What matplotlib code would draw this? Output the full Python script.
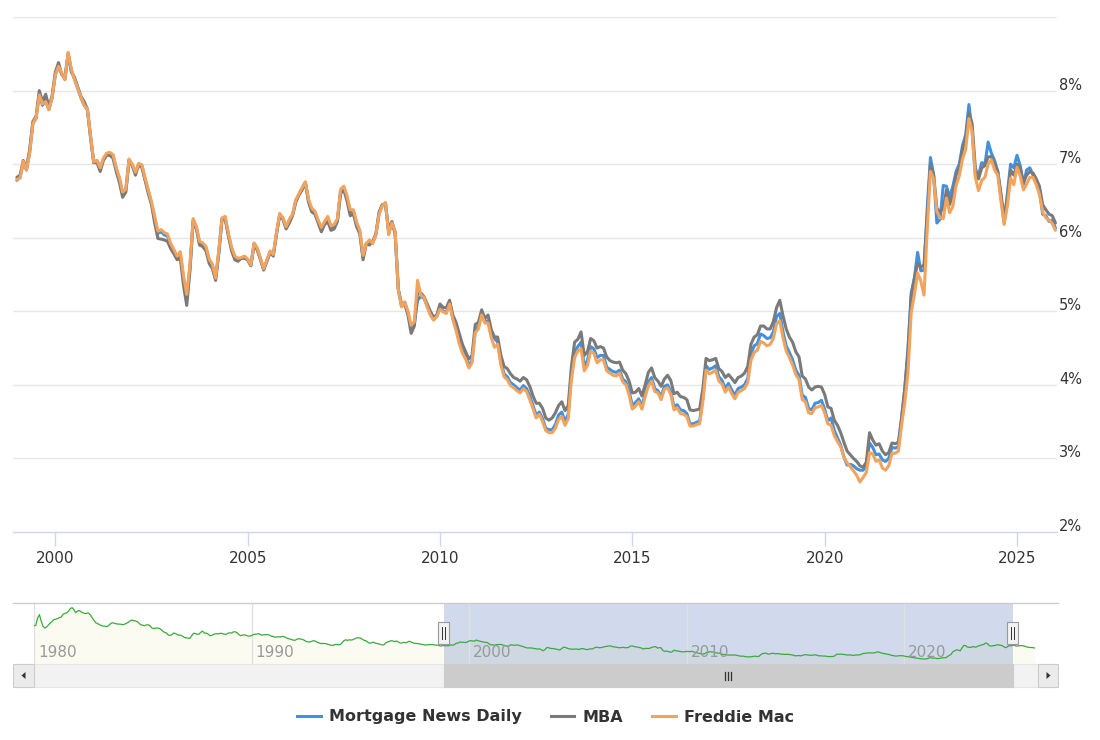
import numpy as np
import matplotlib
matplotlib.use("Agg")
import matplotlib.pyplot as plt
from matplotlib.lines import Line2D
from matplotlib.patches import Rectangle, Polygon
import matplotlib.transforms as mtransforms

plt.rcParams['font.family'] = ['DejaVu Sans']

# ---------------- data (monthly, Jan 1999 .. Jan 2026) ----------------
start_year = 1999
freddie_mac = [
    6.79, 6.81, 7.04, 6.92, 7.15, 7.55, 7.63, 7.94, 7.82, 7.85, 7.74, 7.91,
    8.21, 8.33, 8.24, 8.15, 8.52, 8.29, 8.15, 8.03, 7.91, 7.80, 7.75, 7.38,
    7.03, 7.05, 6.95, 7.08, 7.15, 7.16, 7.13, 6.95, 6.82, 6.62, 6.66, 7.07,
    7.00, 6.89, 7.01, 6.99, 6.81, 6.65, 6.49, 6.29, 6.09, 6.11, 6.07, 6.05,
    5.92, 5.84, 5.75, 5.81, 5.48, 5.23, 5.63, 6.26, 6.15, 5.95, 5.93, 5.88,
    5.71, 5.64, 5.45, 5.83, 6.27, 6.29, 6.06, 5.87, 5.75, 5.72, 5.73, 5.75,
    5.71, 5.63, 5.93, 5.86, 5.72, 5.58, 5.70, 5.82, 5.77, 6.07, 6.33, 6.27,
    6.15, 6.25, 6.32, 6.51, 6.60, 6.68, 6.76, 6.52, 6.40, 6.36, 6.24, 6.14,
    6.22, 6.29, 6.16, 6.18, 6.26, 6.66, 6.70, 6.57, 6.38, 6.38, 6.21, 6.10,
    5.76, 5.92, 5.97, 5.92, 6.04, 6.32, 6.43, 6.48, 6.04, 6.20, 6.09, 5.29,
    5.06, 5.13, 5.00, 4.81, 4.86, 5.42, 5.22, 5.19, 5.06, 4.95, 4.88, 4.93,
    5.03, 4.99, 4.97, 5.10, 4.89, 4.74, 4.56, 4.43, 4.35, 4.23, 4.30, 4.71,
    4.76, 4.95, 4.84, 4.84, 4.64, 4.51, 4.55, 4.27, 4.11, 4.07, 3.99, 3.96,
    3.92, 3.89, 3.95, 3.91, 3.80, 3.68, 3.55, 3.60, 3.50, 3.38, 3.35, 3.35,
    3.41, 3.53, 3.57, 3.45, 3.54, 4.07, 4.37, 4.46, 4.49, 4.19, 4.26, 4.46,
    4.43, 4.30, 4.34, 4.34, 4.19, 4.16, 4.13, 4.12, 4.16, 4.04, 4.00, 3.86,
    3.67, 3.71, 3.77, 3.67, 3.84, 3.98, 4.05, 3.91, 3.89, 3.80, 3.94, 3.96,
    3.87, 3.66, 3.69, 3.61, 3.60, 3.57, 3.44, 3.44, 3.46, 3.47, 3.77, 4.20,
    4.15, 4.17, 4.20, 4.05, 4.01, 3.90, 3.97, 3.88, 3.81, 3.90, 3.92, 3.95,
    4.03, 4.33, 4.44, 4.47, 4.59, 4.57, 4.53, 4.55, 4.63, 4.83, 4.87, 4.64,
    4.46, 4.37, 4.27, 4.14, 4.07, 3.80, 3.77, 3.62, 3.61, 3.69, 3.70, 3.72,
    3.62, 3.47, 3.45, 3.31, 3.23, 3.16, 3.02, 2.94, 2.89, 2.83, 2.77, 2.68,
    2.74, 2.81, 3.08, 3.06, 2.96, 2.98, 2.87, 2.84, 2.90, 3.07, 3.07, 3.10,
    3.45, 3.76, 4.17, 4.98, 5.23, 5.52, 5.41, 5.22, 6.11, 6.90, 6.80, 6.36,
    6.27, 6.26, 6.54, 6.34, 6.43, 6.71, 6.84, 7.07, 7.20, 7.62, 7.44, 6.82,
    6.64, 6.78, 6.82, 7.00, 7.06, 6.92, 6.85, 6.50, 6.18, 6.43, 6.81, 6.72,
    6.96, 6.84, 6.65, 6.73, 6.82, 6.82, 6.72, 6.59, 6.35, 6.27, 6.24, 6.19,
    6.10,
]
mba = [
    6.82, 6.85, 7.05, 6.95, 7.20, 7.58, 7.65, 8.00, 7.85, 7.95, 7.78, 7.93,
    8.25, 8.38, 8.22, 8.18, 8.50, 8.25, 8.18, 8.05, 7.92, 7.85, 7.75, 7.35,
    7.02, 7.02, 6.90, 7.05, 7.12, 7.12, 7.08, 6.90, 6.75, 6.55, 6.62, 7.05,
    6.98, 6.85, 7.00, 6.95, 6.78, 6.60, 6.45, 6.20, 5.99, 5.98, 5.97, 5.95,
    5.85, 5.78, 5.70, 5.72, 5.35, 5.08, 5.55, 6.22, 6.12, 5.90, 5.88, 5.82,
    5.65, 5.58, 5.42, 5.78, 6.25, 6.25, 6.02, 5.82, 5.70, 5.68, 5.72, 5.72,
    5.70, 5.62, 5.90, 5.83, 5.70, 5.56, 5.68, 5.80, 5.75, 6.05, 6.30, 6.25,
    6.12, 6.20, 6.30, 6.48, 6.58, 6.65, 6.75, 6.48, 6.35, 6.32, 6.20, 6.08,
    6.18, 6.22, 6.10, 6.12, 6.22, 6.60, 6.65, 6.50, 6.30, 6.32, 6.15, 6.05,
    5.70, 5.92, 5.90, 5.95, 6.05, 6.35, 6.45, 6.45, 6.10, 6.22, 6.05, 5.30,
    5.10, 5.10, 4.95, 4.70, 4.80, 5.25, 5.25, 5.20, 5.10, 5.00, 4.92, 4.95,
    5.10, 5.05, 5.05, 5.15, 4.95, 4.85, 4.70, 4.55, 4.45, 4.35, 4.40, 4.82,
    4.85, 5.02, 4.90, 4.95, 4.75, 4.65, 4.65, 4.40, 4.25, 4.22, 4.15, 4.10,
    4.08, 4.05, 4.10, 4.07, 3.98, 3.85, 3.75, 3.75, 3.68, 3.55, 3.52, 3.55,
    3.62, 3.72, 3.77, 3.65, 3.72, 4.25, 4.58, 4.62, 4.72, 4.40, 4.45, 4.63,
    4.60, 4.50, 4.52, 4.50, 4.38, 4.33, 4.31, 4.30, 4.31, 4.20, 4.15, 4.05,
    3.89, 3.90, 3.95, 3.85, 4.00, 4.17, 4.23, 4.10, 4.05, 3.98, 4.08, 4.13,
    4.06, 3.88, 3.90, 3.84, 3.83, 3.80, 3.66, 3.65, 3.66, 3.67, 3.95, 4.36,
    4.33, 4.34, 4.36, 4.22, 4.18, 4.10, 4.14, 4.09, 4.03, 4.10, 4.12, 4.16,
    4.25, 4.55, 4.65, 4.68, 4.80, 4.80, 4.76, 4.76, 4.86, 5.05, 5.15, 4.94,
    4.76, 4.65, 4.58, 4.45, 4.38, 4.12, 4.08, 3.97, 3.93, 3.97, 3.98, 3.97,
    3.87, 3.70, 3.68, 3.52, 3.45, 3.35, 3.22, 3.10, 3.05, 3.00, 2.96, 2.90,
    2.88, 2.95, 3.35, 3.25, 3.18, 3.20, 3.10, 3.05, 3.08, 3.21, 3.20, 3.22,
    3.55, 3.95, 4.45, 5.20, 5.45, 5.65, 5.60, 5.63, 6.30, 7.00, 6.85, 6.40,
    6.35, 6.40, 6.65, 6.45, 6.60, 6.85, 6.95, 7.20, 7.35, 7.70, 7.55, 6.95,
    6.80, 6.95, 6.98, 7.10, 7.10, 7.00, 6.90, 6.60, 6.25, 6.55, 6.92, 6.85,
    7.00, 6.95, 6.75, 6.85, 6.90, 6.88, 6.80, 6.70, 6.45, 6.38, 6.32, 6.30,
    6.20,
]
mortgage_news_daily = [
    6.78, 6.82, 7.02, 6.92, 7.16, 7.56, 7.62, 7.95, 7.80, 7.87, 7.74, 7.90,
    8.22, 8.32, 8.23, 8.15, 8.50, 8.28, 8.15, 8.03, 7.90, 7.80, 7.74, 7.38,
    7.02, 7.05, 6.94, 7.07, 7.14, 7.15, 7.12, 6.94, 6.80, 6.60, 6.65, 7.06,
    6.99, 6.88, 7.00, 6.98, 6.80, 6.64, 6.47, 6.27, 6.06, 6.08, 6.04, 6.02,
    5.90, 5.82, 5.73, 5.78, 5.44, 5.18, 5.60, 6.24, 6.14, 5.93, 5.91, 5.86,
    5.69, 5.62, 5.44, 5.81, 6.26, 6.27, 6.04, 5.85, 5.73, 5.70, 5.72, 5.74,
    5.70, 5.62, 5.92, 5.85, 5.71, 5.57, 5.69, 5.81, 5.76, 6.06, 6.32, 6.26,
    6.14, 6.23, 6.31, 6.50, 6.59, 6.67, 6.75, 6.50, 6.38, 6.34, 6.22, 6.12,
    6.20, 6.26, 6.14, 6.16, 6.24, 6.64, 6.68, 6.55, 6.35, 6.36, 6.19, 6.08,
    5.74, 5.92, 5.95, 5.93, 6.04, 6.33, 6.44, 6.47, 6.06, 6.21, 6.08, 5.30,
    5.07, 5.12, 4.98, 4.78, 4.84, 5.15, 5.20, 5.18, 5.07, 4.96, 4.89, 4.93,
    5.05, 5.00, 4.99, 5.12, 4.91, 4.77, 4.60, 4.46, 4.38, 4.26, 4.33, 4.74,
    4.79, 4.97, 4.86, 4.87, 4.67, 4.63, 4.58, 4.31, 4.15, 4.11, 4.03, 4.00,
    3.96, 3.93, 3.99, 3.95, 3.85, 3.72, 3.59, 3.63, 3.54, 3.41, 3.39, 3.39,
    3.46, 3.59, 3.63, 3.50, 3.60, 4.15, 4.45, 4.52, 4.58, 4.26, 4.33, 4.52,
    4.49, 4.37, 4.40, 4.40, 4.24, 4.21, 4.18, 4.17, 4.20, 4.08, 4.04, 3.91,
    3.72, 3.76, 3.81, 3.71, 3.88, 4.04, 4.10, 3.95, 3.92, 3.84, 3.98, 4.00,
    3.91, 3.70, 3.73, 3.66, 3.65, 3.61, 3.47, 3.47, 3.49, 3.51, 3.82, 4.26,
    4.21, 4.23, 4.26, 4.11, 4.06, 3.95, 4.02, 3.93, 3.86, 3.95, 3.97, 4.00,
    4.09, 4.42, 4.53, 4.56, 4.69, 4.67, 4.63, 4.64, 4.72, 4.93, 4.97, 4.72,
    4.53, 4.44, 4.34, 4.20, 4.13, 3.86, 3.83, 3.68, 3.66, 3.75, 3.76, 3.79,
    3.67, 3.51, 3.55, 3.38, 3.28, 3.18, 3.02, 2.91, 2.92, 2.90, 2.86, 2.84,
    2.84, 2.92, 3.21, 3.15, 3.05, 3.06, 2.98, 2.96, 3.00, 3.15, 3.14, 3.16,
    3.55, 3.95, 4.50, 5.25, 5.45, 5.80, 5.55, 5.56, 6.40, 7.09, 6.85, 6.20,
    6.25, 6.71, 6.70, 6.55, 6.70, 6.90, 7.00, 7.25, 7.40, 7.81, 7.45, 6.85,
    6.85, 7.02, 7.00, 7.30, 7.15, 7.05, 6.90, 6.55, 6.20, 6.60, 7.00, 6.95,
    7.12, 6.98, 6.72, 6.92, 6.95, 6.85, 6.78, 6.65, 6.32, 6.30, 6.22, 6.24,
    6.13,
]
# navigator history (monthly, Jan 1980 .. Dec 1998), followed by Freddie Mac
nav_start_year = 1980
nav_history = [
    12.88, 13.04, 15.28, 16.32, 14.26, 12.71, 12.19, 12.56, 13.20, 13.79, 14.21, 14.79,
    14.90, 15.13, 15.40, 15.58, 16.40, 16.70, 16.83, 17.29, 18.16, 18.45, 17.83, 16.92,
    17.40, 17.60, 17.16, 16.89, 16.68, 16.70, 16.82, 16.27, 15.43, 14.61, 13.83, 13.62,
    13.25, 13.04, 12.80, 12.78, 12.63, 12.87, 13.42, 13.81, 13.73, 13.54, 13.44, 13.42,
    13.37, 13.23, 13.39, 13.65, 13.94, 14.42, 14.67, 14.47, 14.35, 14.13, 13.64, 13.18,
    13.08, 12.92, 13.17, 13.20, 12.91, 12.22, 12.03, 12.19, 12.19, 12.14, 11.78, 11.26,
    10.88, 10.71, 10.08, 9.94, 10.14, 10.68, 10.51, 10.20, 10.01, 9.98, 9.70, 9.31,
    9.20, 9.08, 9.04, 9.83, 10.60, 10.54, 10.28, 10.33, 10.89, 11.26, 10.65, 10.64,
    10.38, 9.89, 9.93, 10.20, 10.46, 10.46, 10.43, 10.60, 10.48, 10.30, 10.27, 10.61,
    10.73, 10.65, 11.03, 11.05, 10.77, 10.20, 9.88, 9.99, 10.13, 9.95, 9.77, 9.74,
    9.90, 10.20, 10.27, 10.37, 10.48, 10.16, 10.04, 10.10, 10.18, 10.18, 10.01, 9.67,
    9.64, 9.37, 9.50, 9.49, 9.47, 9.62, 9.58, 9.24, 9.01, 8.86, 8.71, 8.50,
    8.43, 8.76, 8.94, 8.85, 8.67, 8.51, 8.13, 7.98, 7.92, 8.09, 8.31, 8.22,
    7.92, 7.71, 7.46, 7.46, 7.47, 7.42, 7.21, 7.11, 6.92, 6.83, 7.16, 7.17,
    7.06, 7.15, 7.68, 8.32, 8.60, 8.40, 8.61, 8.51, 8.64, 8.93, 9.17, 9.20,
    9.15, 8.83, 8.46, 8.32, 7.96, 7.57, 7.61, 7.86, 7.64, 7.48, 7.38, 7.20,
    7.03, 7.08, 7.62, 7.93, 8.07, 8.32, 8.25, 8.00, 8.23, 7.92, 7.62, 7.60,
    7.82, 7.65, 7.90, 8.14, 7.94, 7.69, 7.50, 7.48, 7.43, 7.29, 7.21, 7.10,
    6.99, 7.04, 7.13, 7.14, 7.14, 7.00, 6.95, 6.92, 6.72, 6.71, 6.87, 6.72,
]

series_names = ["Mortgage News Daily", "MBA", "Freddie Mac"]
series_colors = ["#4391de", "#7a7a7a", "#f2a35e"]
y_ticks = [2, 3, 4, 5, 6, 7, 8]
grid_levels = [3, 4, 5, 6, 7, 8, 9]
x_ticks = [2000, 2005, 2010, 2015, 2020, 2025]
nav_ticks = [1980, 1990, 2000, 2010, 2020]
selection = (1998.85, 2024.99)

# ---------------- figure ----------------
W, H = 1100, 740
fig = plt.figure(figsize=(W / 100, H / 100), dpi=100)
fig.patch.set_facecolor("white")


def box(x0, y0, x1, y1):
    return [x0 / W, 1 - y1 / H, (x1 - x0) / W, (y1 - y0) / H]


# main chart
ax = fig.add_axes(box(13, 17, 1057, 532))
ax.set_xlim(1998.9, 2026.04)
ax.set_ylim(2, 9)
for g in grid_levels:
    ax.axhline(g, color="#e6e6e6", lw=1, zorder=0)

all_series = [mortgage_news_daily, mba, freddie_mac]
for vals, col in zip(all_series, series_colors):
    t = start_year + np.arange(len(vals)) / 12.0
    ax.plot(t, vals, color=col, lw=2.2, solid_joinstyle="round",
            solid_capstyle="round", zorder=3)

for s in ["top", "left", "right"]:
    ax.spines[s].set_visible(False)
ax.spines["bottom"].set_color("#ccd6eb")
ax.spines["bottom"].set_linewidth(1)
ax.set_yticks([])
ax.set_xticks(x_ticks)
ax.set_xticklabels([str(v) for v in x_ticks])
ax.tick_params(axis="x", length=10, width=1, color="#ccd6eb", pad=4,
               labelsize=11, labelcolor="#333333")

ytrans = mtransforms.blended_transform_factory(ax.transAxes, ax.transData)
ytrans = mtransforms.offset_copy(ytrans, fig=fig, x=2, y=1, units="dots")
for v in y_ticks:
    ax.text(1.0, v, f"{v}%", transform=ytrans, ha="left", va="baseline",
            fontsize=10.5, color="#333333", clip_on=False)

# navigator
nav = fig.add_axes(box(34, 603, 1038, 664))
nav_vals = nav_history + freddie_mac
nav_t = nav_start_year + np.arange(len(nav_vals)) / 12.0
nav.set_xlim(1980.0, 2026.16)
nav_ymin = 1.17
nav.set_ylim(nav_ymin, 19.88)
nav.axis("off")
nav.fill_between(nav_t, nav_vals, nav_ymin, color="#fbfbf1", lw=0, zorder=1)
nav.axvspan(selection[0], selection[1], color=(102 / 255, 133 / 255, 194 / 255),
            alpha=0.3, lw=0, zorder=2)
for yr in nav_ticks:
    nav.axvline(yr, color="#e0e0e0", lw=1, zorder=2.5)
nav.plot(nav_t, nav_vals, color="#3aab3a", lw=0.9, zorder=4)
ntrans = mtransforms.blended_transform_factory(nav.transData, nav.transAxes)
ntrans = mtransforms.offset_copy(ntrans, fig=fig, x=4, y=0, units="dots")
for yr in nav_ticks:
    nav.text(yr, 0.19, str(yr), transform=ntrans, ha="left", va="center",
             fontsize=11, color="#999999", zorder=5)

# overlay in pixel coordinates for navigator chrome
ov = fig.add_axes([0, 0, 1, 1])
ov.set_xlim(0, W)
ov.set_ylim(H, 0)
ov.axis("off")
ov.patch.set_visible(False)

fig.canvas.draw()
sx0 = nav.transData.transform((selection[0], 0))[0]
sx1 = nav.transData.transform((selection[1], 0))[0]

ov.plot([13, 1058], [603, 603], color="#cccccc", lw=1)
# scrollbar
ov.add_patch(Rectangle((34, 664), 1004, 23, fc="#f2f2f2", ec="#e6e6e6", lw=0.8))
ov.add_patch(Rectangle((sx0, 664), sx1 - sx0, 23, fc="#cccccc", ec="#cccccc", lw=0.8))
cx = (sx0 + sx1) / 2
for dx in (-3, 0, 3):
    ov.plot([cx + dx, cx + dx], [671.5, 680], color="#333333", lw=0.9)
ov.add_patch(Rectangle((13, 664), 21, 23, fc="#ebebeb", ec="#cccccc", lw=0.8))
ov.add_patch(Rectangle((1038, 664), 20, 23, fc="#ebebeb", ec="#cccccc", lw=0.8))
ov.add_patch(Polygon([[21.5, 675.5], [25.5, 672], [25.5, 679]], closed=True,
                     fc="#333333", ec="none"))
ov.add_patch(Polygon([[1050.5, 675.5], [1046.5, 672], [1046.5, 679]], closed=True,
                     fc="#333333", ec="none"))
# handles
for hx in (sx0, sx1):
    ov.add_patch(Rectangle((hx - 5.5, 622), 11, 22, fc="#f2f2f2", ec="#999999",
                           lw=0.8, zorder=6))
    for dx in (-1.5, 1.5):
        ov.plot([hx + dx, hx + dx], [627, 639], color="#333333", lw=0.7, zorder=7)

# legend
handles = [Line2D([0], [0], color=c, lw=2.2) for c in series_colors]
fig.legend(handles, series_names, loc="center",
           bbox_to_anchor=(545.5 / W, 1 - 717 / H), ncol=3, frameon=False,
           prop={"weight": "bold", "size": 11.5}, handlelength=1.5,
           handletextpad=0.5, columnspacing=1.8, labelcolor="#333333")

fig.savefig("out.png", dpi=100)
